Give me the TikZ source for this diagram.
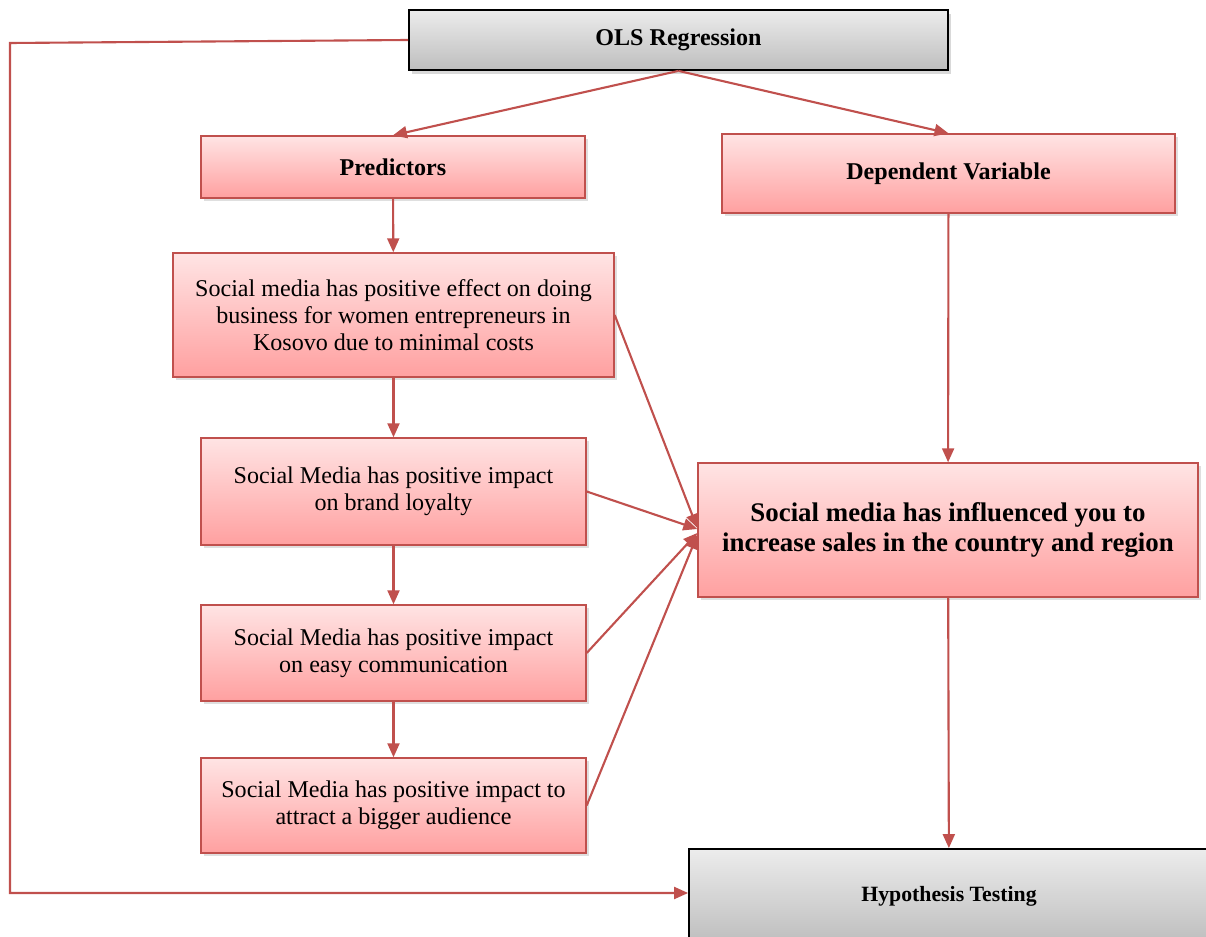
\documentclass[tikz,border=0pt]{standalone}
\usepackage{fontspec}
\setmainfont{Liberation Serif}
\usepackage{xcolor}
\usepackage{tikz}
\usetikzlibrary{arrows.meta,positioning,calc,shadows}

\definecolor{edgered}{RGB}{192,80,77}
\definecolor{pinktop}{RGB}{255,228,228}
\definecolor{pinkbot}{RGB}{255,160,160}
\definecolor{greytop}{RGB}{236,236,236}
\definecolor{greybot}{RGB}{190,190,190}

\begin{document}
\begin{tikzpicture}[>={Triangle[length=0.28cm,width=0.24cm]},
  redbox/.style={draw=edgered,line width=0.8pt,top color=pinktop,bottom color=pinkbot,
    align=center,font=\fontsize{13.7}{15.4}\selectfont,
    drop shadow={shadow xshift=0.05cm,shadow yshift=-0.06cm,opacity=0.25}},
  greybox/.style={draw=black,line width=1pt,top color=greytop,bottom color=greybot,
    align=center,font=\bfseries\fontsize{13.7}{16}\selectfont,
    drop shadow={shadow xshift=0.05cm,shadow yshift=-0.08cm,opacity=0.3}},
  link/.style={->,draw=edgered,line width=1.2pt}]
\useasboundingbox (0,0) rectangle (24.12,-18.74);

% top and bottom
\node[greybox,minimum width=10.78cm,minimum height=1.2cm] (ols) at (13.57,-0.80) {OLS Regression};
\node[greybox,font=\bfseries\fontsize{12.4}{15}\selectfont,minimum width=10.4cm,minimum height=1.88cm] (hyp) at (18.98,-17.92) {Hypothesis Testing};

% predictor column
\node[redbox,font=\bfseries\fontsize{13.7}{16}\selectfont,minimum width=7.68cm,minimum height=1.24cm] (pred) at (7.86,-3.34) {Predictors};
\node[redbox,minimum width=8.82cm,minimum height=2.48cm] (cost) at (7.87,-6.30) {Social media has positive effect on doing\\business for women entrepreneurs in\\Kosovo due to minimal costs};
\node[redbox,minimum width=7.70cm,minimum height=2.14cm] (loyal) at (7.87,-9.83) {Social Media has positive impact\\on brand loyalty};
\node[redbox,minimum width=7.70cm,minimum height=1.92cm] (comm) at (7.87,-13.06) {Social Media has positive impact\\on easy communication};
\node[redbox,minimum width=7.70cm,minimum height=1.90cm] (aud) at (7.87,-16.11) {Social Media has positive impact to\\attract a bigger audience};

% dependent column
\node[redbox,font=\bfseries\fontsize{13.7}{16}\selectfont,minimum width=9.06cm,minimum height=1.58cm] (dep) at (18.97,-3.47) {Dependent Variable};
\node[redbox,font=\bfseries\fontsize{15.3}{17.4}\selectfont,minimum width=10.0cm,minimum height=2.68cm] (sales) at (18.96,-10.60) {Social media has influenced you to\\increase sales in the country and region};

\coordinate (tl) at (0.2,-0.86);
\coordinate (bl) at (0.2,-17.86);

\draw[link] (ols.south) -- (pred.north);
\draw[link] (ols.south) -- (dep.north);
\draw[link] (pred) -- (cost);
\draw[link] (cost) -- (loyal);
\draw[link] (loyal) -- (comm);
\draw[link] (comm) -- (aud);
\draw[link] (dep) -- (sales);
\draw[link] (sales) -- (hyp);
\draw[link] (cost.east) -- ([yshift=0.04cm]sales.west);
\draw[link] (loyal.east) -- ([yshift=0.02cm]sales.west);
\draw[link] (comm.east) -- ([yshift=-0.06cm]sales.west);
\draw[link] (aud.east) -- ([yshift=-0.1cm]sales.west);
\draw[link] (ols.west) -- (tl) -- (bl) -- (bl -| hyp.west);
\end{tikzpicture}
\end{document}
